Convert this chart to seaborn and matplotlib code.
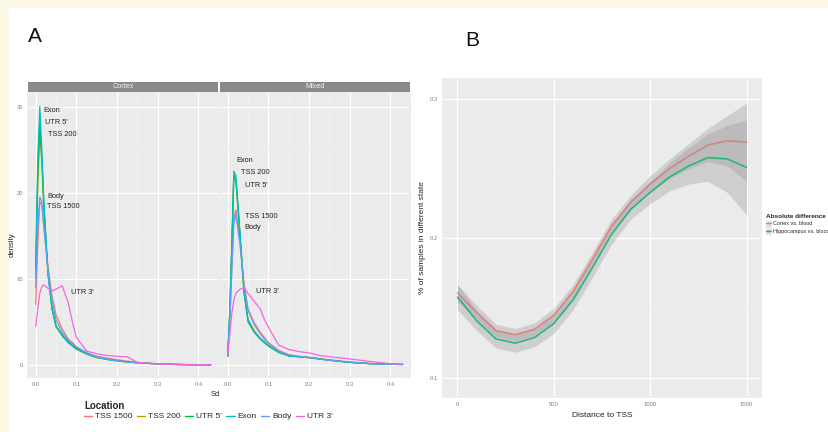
import matplotlib
matplotlib.use('Agg')

import matplotlib.pyplot as plt
from matplotlib.lines import Line2D
from matplotlib.patches import Patch, Rectangle
import numpy as np
import pandas as pd
import seaborn as sns

# ---- panel A: density of Sd per location, faceted by tissue ----
sd_grid = [0, 0.005, 0.01, 0.015, 0.02, 0.03, 0.04, 0.05, 0.065, 0.08, 0.09,
           0.1, 0.125, 0.15, 0.175, 0.2, 0.225, 0.25, 0.3, 0.35, 0.4, 0.43]
locations = ["TSS 1500", "TSS 200", "UTR 5'", "Exon", "Body", "UTR 3'"]
loc_colors = ["#F8766D", "#B79F00", "#00BA38", "#00BFC4", "#619CFF", "#F564E3"]

cortex_density = {
    "TSS 1500": [7, 14, 19, 18.5, 16, 11.5, 8, 5.8, 4.2, 3.0, 2.6, 2.1, 1.4, 1.0, 0.8, 0.6, 0.45, 0.3, 0.15, 0.07, 0.03, 0.02],
    "TSS 200": [10, 21, 27, 23.5, 18, 10.8, 6.5, 4.4, 3.4, 2.6, 2.2, 1.8, 1.25, 0.85, 0.65, 0.5, 0.35, 0.25, 0.12, 0.05, 0.02, 0.01],
    "UTR 5'": [11, 22, 28, 24, 18.5, 10.8, 6.6, 4.5, 3.5, 2.7, 2.3, 1.9, 1.3, 0.9, 0.65, 0.5, 0.35, 0.25, 0.12, 0.05, 0.02, 0.01],
    "Exon": [12, 24, 30, 25, 19, 10.5, 6.5, 4.5, 3.4, 2.6, 2.2, 1.9, 1.3, 0.9, 0.65, 0.45, 0.35, 0.25, 0.12, 0.05, 0.02, 0.01],
    "Body": [9, 16, 19.5, 19, 16, 11, 7.5, 5.2, 3.8, 2.9, 2.5, 2.1, 1.4, 0.95, 0.7, 0.5, 0.35, 0.25, 0.12, 0.05, 0.02, 0.01],
    "UTR 3'": [4.5, 6.5, 8.3, 9.1, 9.3, 8.9, 8.6, 8.8, 9.2, 7.2, 5.0, 3.2, 1.6, 1.3, 1.1, 1.0, 0.95, 0.3, 0.1, 0.05, 0.02, 0.01],
}
mixed_density = {
    "TSS 1500": [1, 5, 11, 17, 18, 14.5, 9.5, 6.5, 4.9, 3.8, 3.2, 2.6, 1.7, 1.2, 1.0, 0.9, 0.75, 0.6, 0.35, 0.18, 0.1, 0.06],
    "TSS 200": [1, 6, 13.5, 22, 21.5, 15.2, 8.5, 5.3, 4.0, 3.1, 2.7, 2.3, 1.5, 1.1, 0.95, 0.85, 0.7, 0.55, 0.3, 0.15, 0.08, 0.05],
    "UTR 5'": [1, 6, 13.5, 22, 21.5, 15, 8.4, 5.0, 3.8, 3.0, 2.6, 2.2, 1.45, 1.05, 0.95, 0.85, 0.7, 0.55, 0.3, 0.15, 0.08, 0.05],
    "Exon": [1, 6.5, 14, 22.5, 22, 15.5, 8.6, 5.2, 3.8, 3.0, 2.6, 2.2, 1.5, 1.05, 0.95, 0.85, 0.7, 0.55, 0.3, 0.15, 0.08, 0.05],
    "Body": [1, 5, 11, 16.5, 17.5, 14, 9.2, 6.3, 4.7, 3.6, 3.0, 2.5, 1.6, 1.15, 1.0, 0.85, 0.7, 0.55, 0.32, 0.16, 0.09, 0.05],
    "UTR 3'": [1.2, 3.5, 6.0, 7.5, 8.3, 8.8, 9.0, 8.3, 7.4, 6.5, 5.3, 4.4, 2.3, 1.8, 1.55, 1.4, 1.1, 0.95, 0.7, 0.4, 0.15, 0.1],
}

# peak labels (x, y in data units)
cortex_labels = {"Exon": (0.018, 29.5), "UTR 5'": (0.023, 28.1), "TSS 200": (0.031, 26.8),
                 "Body": (0.028, 19.6), "TSS 1500": (0.028, 18.4), "UTR 3'": (0.087, 8.4)}
mixed_labels = {"Exon": (0.022, 23.8), "TSS 200": (0.032, 22.3), "UTR 5'": (0.042, 20.8),
                "TSS 1500": (0.042, 17.2), "Body": (0.042, 16.0), "UTR 3'": (0.069, 8.5)}

# ---- panel B: smoothed % in different state vs distance to TSS ----
dist_tss = [0, 100, 200, 300, 400, 500, 600, 700, 800, 900, 1000, 1100, 1200, 1300, 1400, 1500]
cortex_blood = [0.161, 0.147, 0.134, 0.131, 0.135, 0.145, 0.162, 0.185, 0.209, 0.226, 0.239, 0.250, 0.259, 0.267, 0.270, 0.269]
cortex_se = [0.006, 0.005, 0.0045, 0.0045, 0.0045, 0.005, 0.005, 0.005, 0.005, 0.005, 0.006, 0.007, 0.009, 0.012, 0.018, 0.028]
hippo_blood = [0.158, 0.141, 0.128, 0.125, 0.129, 0.139, 0.156, 0.179, 0.203, 0.221, 0.233, 0.244, 0.252, 0.258, 0.257, 0.251]
hippo_se = [0.009, 0.007, 0.0065, 0.0065, 0.0065, 0.007, 0.007, 0.007, 0.007, 0.007, 0.008, 0.010, 0.013, 0.017, 0.024, 0.034]
comparisons = ["Cortex vs. blood", "Hippocampus vs. blood"]
comp_colors = ["#F8766D", "#1DB67A"]

sns.set_theme(style="darkgrid", rc={
    "axes.facecolor": "#EBEBEB",
    "grid.color": "white",
    "axes.edgecolor": "#EBEBEB",
    "xtick.color": "#7F7F7F",
    "ytick.color": "#7F7F7F",
})
plt.rcParams["font.family"] = ["Liberation Sans", "DejaVu Sans"]

W, H = 829, 432
fig = plt.figure(figsize=(W / 100, H / 100), dpi=100)
fig.patch.set_facecolor("#FDF9E6")
fig.patches.append(Rectangle((9 / W, 0), 1, 1 - 8 / H, transform=fig.transFigure,
                             facecolor="white", edgecolor="none", zorder=-10))


def px_axes(x0, y0, x1, y1):
    # axes from pixel box (top-left origin)
    return fig.add_axes([x0 / W, 1 - y1 / H, (x1 - x0) / W, (y1 - y0) / H])


palette = dict(zip(locations, loc_colors))

for (x0, x1, name, dens, labels) in [(28, 218, "Cortex", cortex_density, cortex_labels),
                                     (220, 410, "Mixed", mixed_density, mixed_labels)]:
    ax = px_axes(x0, 92, x1, 377)
    rows = []
    for loc in locations:
        for s, d in zip(sd_grid, dens[loc]):
            rows.append({"Sd": s, "density": d, "Location": loc})
    df = pd.DataFrame(rows)
    sns.lineplot(data=df, x="Sd", y="density", hue="Location", hue_order=locations,
                 palette=palette, ax=ax, legend=False, linewidth=0.9, sort=False)
    for lab, (lx, ly) in labels.items():
        ax.text(lx, ly, lab, fontsize=5.3, color="#222222", ha="left", va="center")
    ax.set_xlim(-0.019, 0.448)
    ax.set_ylim(-1.4, 31.7)
    ax.set_xticks([0, 0.1, 0.2, 0.3, 0.4])
    ax.set_xticklabels(["0.0", "0.1", "0.2", "0.3", "0.4"])
    ax.set_xticks([0.05, 0.15, 0.25, 0.35], minor=True)
    ax.set_yticks([0, 10, 20, 30])
    ax.set_yticks([5, 15, 25], minor=True)
    ax.grid(which="major", color="white", linewidth=0.8)
    ax.grid(which="minor", color="#F4F4F4", linewidth=0.4)
    ax.tick_params(labelsize=4.2, length=2, width=0.5, pad=1.5, colors="#7F7F7F",
                   labelcolor="#7F7F7F", which="major")
    ax.tick_params(which="minor", length=0)
    ax.set_xlabel("")
    ax.set_ylabel("")
    if name == "Mixed":
        ax.set_yticklabels([])
        ax.tick_params(axis="y", length=0)
    # facet strip
    strip = px_axes(x0, 82, x1, 92)
    strip.set_facecolor("#8A8A8A")
    strip.set_xticks([])
    strip.set_yticks([])
    strip.grid(False)
    for sp in strip.spines.values():
        sp.set_visible(False)
    strip.text(0.5, 0.5, name, color="#F2F2F2", fontsize=5.2, ha="center", va="center",
               transform=strip.transAxes)

fig.text(215 / W, 1 - 395 / H, "Sd", fontsize=5.5, ha="center", va="center", color="#222222")
fig.text(12 / W, 1 - 245 / H, "density", fontsize=5.5, ha="center", va="center",
         rotation=90, color="#222222")

loc_handles = [Line2D([0], [0], color=c, lw=1.0) for c in loc_colors]
fig.legend(loc_handles, locations, loc="upper left", bbox_to_anchor=(84 / W, 1 - 401 / H),
           ncol=6, frameon=False, fontsize=6, title="Location", alignment="left",
           title_fontproperties={"weight": "bold", "size": 7}, handlelength=1.0,
           handletextpad=0.35, columnspacing=0.5, borderaxespad=0, borderpad=0,
           labelspacing=0.2)

# ---- panel B ----
axB = px_axes(443, 79, 761, 397)
dfB = pd.DataFrame({
    "Distance to TSS": dist_tss * 2,
    "value": cortex_blood + hippo_blood,
    "Absolute difference": [comparisons[0]] * len(dist_tss) + [comparisons[1]] * len(dist_tss),
})
bands = [(cortex_blood, cortex_se), (hippo_blood, hippo_se)]
for i, comp in enumerate(comparisons):
    mean, se = np.array(bands[i][0]), np.array(bands[i][1])
    axB.fill_between(dist_tss, mean - se, mean + se, color="#999999", alpha=0.35,
                     linewidth=0, zorder=2 + 2 * i)
    sub = dfB[dfB["Absolute difference"] == comp]
    sns.lineplot(data=sub, x="Distance to TSS", y="value", color=comp_colors[i],
                 ax=axB, linewidth=1.1, zorder=3 + 2 * i)

axB.set_xlim(-75, 1575)
axB.set_ylim(0.0864, 0.3143)
axB.set_xticks([0, 500, 1000, 1500])
axB.set_xticks([250, 750, 1250], minor=True)
axB.set_yticks([0.1, 0.2, 0.3])
axB.set_yticks([0.15, 0.25], minor=True)
axB.grid(which="major", color="white", linewidth=0.9)
axB.grid(which="minor", color="#F4F4F4", linewidth=0.4)
axB.tick_params(labelsize=4.2, length=2, width=0.5, pad=1.5, colors="#7F7F7F",
                labelcolor="#7F7F7F", which="major")
axB.tick_params(which="minor", length=0)
axB.set_xlabel("Distance to TSS", fontsize=6, color="#222222", labelpad=4)
axB.set_ylabel("% of samples in different state", fontsize=6, color="#222222", labelpad=3)

comp_handles = [(Patch(facecolor="#D4D4D4", edgecolor="#EBEBEB"), Line2D([0], [0], color=c, lw=1.0))
                for c in comp_colors]
fig.legend(comp_handles, comparisons, loc="upper left", bbox_to_anchor=(766 / W, 1 - 214 / H),
           frameon=False, fontsize=3.9, title="Absolute difference", alignment="left",
           title_fontproperties={"weight": "bold", "size": 4.6}, handlelength=1.0,
           handleheight=1.3, handletextpad=0.3, borderaxespad=0, borderpad=0,
           labelspacing=0.3)

fig.text(35 / W, 1 - 37 / H, "A", fontsize=15, ha="center", va="center", color="#111111")
fig.text(472 / W, 1 - 40 / H, "B", fontsize=15, ha="center", va="center", color="#111111")

fig.savefig("out.png", dpi=100, facecolor=fig.get_facecolor())
plt.close("all")
